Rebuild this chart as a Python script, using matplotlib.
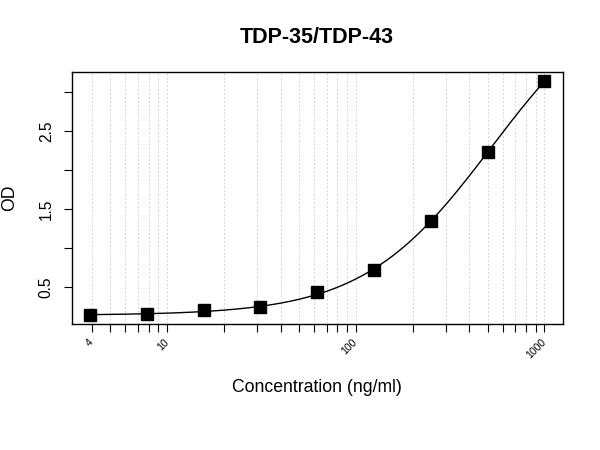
import numpy as np
import matplotlib
matplotlib.use("Agg")
from matplotlib import pyplot as plt

plt.rcParams['font.family'] = ['Liberation Sans', 'DejaVu Sans']

# standard curve values
concentration = [3.9, 7.8, 15.6, 31.25, 62.5, 125, 250, 500, 1000]
od = [0.143, 0.156, 0.214, 0.245, 0.436, 0.717, 1.349, 2.235, 3.135]

x_tick_labels = {4: "4", 10: "10", 100: "100", 1000: "1000"}
y_ticks = [0.5, 1.0, 1.5, 2.0, 2.5, 3.0]
y_tick_labels = ["0.5", "", "1.5", "", "2.5", ""]


def fit_4pl(x, y):
    # 4PL: y = d + (a - d) / (1 + (x/c)^b); a, d linear for given b, c
    x = np.asarray(x, float)
    y = np.asarray(y, float)
    best = None
    for b in np.linspace(0.5, 4, 141):
        for c in np.logspace(1.5, 4.5, 301):
            f = 1 / (1 + (x / c) ** b)
            M = np.column_stack([f, 1 - f])
            coef, *_ = np.linalg.lstsq(M, y, rcond=None)
            err = np.sum((M @ coef - y) ** 2)
            if best is None or err < best[0]:
                best = (err, coef[0], b, c, coef[1])
    return best[1:]


a, b, c, d = fit_4pl(concentration, od)
xs = np.logspace(np.log10(concentration[0]), np.log10(concentration[-1]), 400)
ys = d + (a - d) / (1 + (xs / c) ** b)

fig = plt.figure(figsize=(6, 4.5), dpi=100)
ax = fig.add_axes([0.1195, 0.2793, 0.8183, 0.5614])

ax.set_xscale('log')
lo, hi = np.log10(concentration[0]), np.log10(concentration[-1])
ext = 0.04 * (hi - lo)
ax.set_xlim(10 ** (lo - ext), 10 ** (hi + ext))
ax.set_ylim(0.028, 3.259)

grid_x = [v * m for m in (1, 10, 100) for v in range(1, 10)] + [1000]
grid_x = [g for g in grid_x if g >= 4]
for g in grid_x:
    ax.axvline(g, color='#d4d4d4', lw=0.7, ls=(0, (2, 2)), zorder=0)

ax.plot(xs, ys, color='black', lw=1.0, zorder=2)
ax.plot(concentration, od, 's', color='black', ms=8.5, zorder=3)

ax.xaxis.set_major_locator(matplotlib.ticker.FixedLocator(grid_x))
ax.xaxis.set_minor_locator(matplotlib.ticker.NullLocator())
ax.set_xticklabels([x_tick_labels.get(g, "") for g in grid_x])
ax.tick_params(axis='x', length=5.5, width=0.8, pad=6.2, labelsize=7.6)
plt.setp(ax.get_xticklabels(), rotation=45, ha='right', va='center',
         rotation_mode='anchor')

ax.set_yticks(y_ticks)
ax.set_yticklabels(y_tick_labels)
ax.tick_params(axis='y', length=5.5, width=0.8, pad=7.4, labelsize=11.2)
plt.setp(ax.get_yticklabels(), rotation=90, va='center')

for s in ax.spines.values():
    s.set_linewidth(1.0)

ax.set_title("TDP-35/TDP-43", fontsize=15.5, fontweight='bold', pad=20.7)
fig.text(317.2 / 600, 1 - 391.6 / 450, "Concentration (ng/ml)",
         ha='center', va='baseline', fontsize=12.7)
fig.text(10 / 600, 1 - 198 / 450, "OD", rotation=90,
         ha='center', va='center', fontsize=12.7)

plt.savefig("out.png", dpi=100)
